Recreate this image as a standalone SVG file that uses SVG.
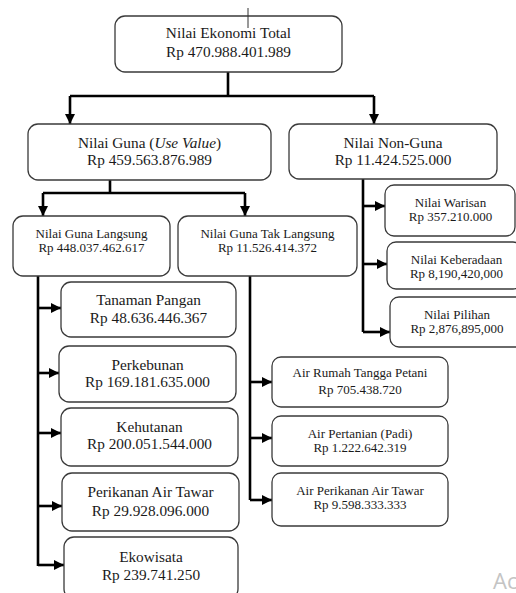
<svg xmlns="http://www.w3.org/2000/svg" width="516" height="593" viewBox="0 0 516 593">
<style>
.box{fill:#fff;stroke:#3a3a3a;stroke-width:1.3}
.t{font-family:'Liberation Serif','Times New Roman','DejaVu Serif',serif;fill:#1a1a1a;text-anchor:middle}
.L{font-size:15.3px}
.S{font-size:13px}
.c{fill:none;stroke:#000;stroke-width:2.6}
</style>
<defs>
<marker id="ah" markerUnits="userSpaceOnUse" markerWidth="12" markerHeight="12" viewBox="0 0 12 12" refX="11" refY="6" orient="auto">
<path d="M1,1 L11,6 L1,11 Z" fill="#000"/>
</marker>
</defs>
<rect width="516" height="593" fill="#fff"/>

<g id="connectors">
<path class="c" d="M228 72 V96"/>
<path class="c" d="M70 96 H374"/>
<path class="c" d="M70 96 V124" marker-end="url(#ah)"/>
<path class="c" d="M374 96 V124" marker-end="url(#ah)"/>
<path class="c" d="M110 180 V193"/>
<path class="c" d="M43 193 H245"/>
<path class="c" d="M43 193 V216" marker-end="url(#ah)"/>
<path class="c" d="M245 193 V216" marker-end="url(#ah)"/>
<path class="c" d="M363 179 V332"/>
<path class="c" d="M363 206 H385" marker-end="url(#ah)"/>
<path class="c" d="M363 264 H387" marker-end="url(#ah)"/>
<path class="c" d="M363 332 H390" marker-end="url(#ah)"/>
<path class="c" d="M38 276 V566"/>
<path class="c" d="M38 308 H61" marker-end="url(#ah)"/>
<path class="c" d="M38 373 H59" marker-end="url(#ah)"/>
<path class="c" d="M38 433 H61" marker-end="url(#ah)"/>
<path class="c" d="M38 506 H62" marker-end="url(#ah)"/>
<path class="c" d="M38 565 H64" marker-end="url(#ah)"/>
<path class="c" d="M250 276 V500"/>
<path class="c" d="M250 382 H272" marker-end="url(#ah)"/>
<path class="c" d="M250 438 H272" marker-end="url(#ah)"/>
<path class="c" d="M250 500 H272" marker-end="url(#ah)"/>
</g>

<g id="total">
<rect class="box" x="115" y="16" width="227" height="56" rx="10"/>
<text class="t L" x="228.5" y="38">Nilai Ekonomi Total</text>
<text class="t L" x="228.5" y="57">Rp 470.988.401.989</text>
</g>
<line x1="248" y1="8" x2="248" y2="28" stroke="#333" stroke-width="1"/>

<g id="guna">
<rect class="box" x="28" y="124" width="243" height="56" rx="10"/>
<text class="t L" x="149.5" y="148">Nilai Guna (<tspan font-style="italic">Use Value</tspan>)</text>
<text class="t L" x="149.5" y="165">Rp 459.563.876.989</text>
</g>

<g id="nonguna">
<rect class="box" x="289" y="124" width="208" height="55" rx="10"/>
<text class="t L" x="393" y="148">Nilai Non-Guna</text>
<text class="t L" x="393" y="165">Rp 11.424.525.000</text>
</g>

<g id="langsung">
<rect class="box" x="13" y="216" width="157" height="60" rx="10"/>
<text class="t S" x="91.5" y="238">Nilai Guna Langsung</text>
<text class="t S" x="91.5" y="252">Rp 448.037.462.617</text>
</g>

<g id="taklangsung">
<rect class="box" x="178" y="216" width="179" height="60" rx="10"/>
<text class="t S" x="267.5" y="238">Nilai Guna Tak Langsung</text>
<text class="t S" x="267.5" y="252">Rp 11.526.414.372</text>
</g>

<g id="warisan">
<rect class="box" x="385" y="185" width="130" height="51" rx="9"/>
<text class="t S" x="450.5" y="207">Nilai Warisan</text>
<text class="t S" x="450.5" y="221">Rp 357.210.000</text>
</g>

<g id="keberadaan">
<rect class="box" x="387" y="242" width="135" height="47" rx="9"/>
<text class="t S" x="456.5" y="264">Nilai Keberadaan</text>
<text class="t S" x="456.5" y="278">Rp 8,190,420,000</text>
</g>

<g id="pilihan">
<rect class="box" x="390" y="297" width="135" height="50" rx="9"/>
<text class="t S" x="457" y="319">Nilai Pilihan</text>
<text class="t S" x="457" y="333">Rp 2,876,895,000</text>
</g>

<g id="tanaman">
<rect class="box" x="61" y="282" width="175" height="55" rx="10"/>
<text class="t L" x="148.5" y="305">Tanaman Pangan</text>
<text class="t L" x="148.5" y="323">Rp 48.636.446.367</text>
</g>

<g id="perkebunan">
<rect class="box" x="59" y="346" width="177" height="56" rx="10"/>
<text class="t L" x="147.5" y="370">Perkebunan</text>
<text class="t L" x="147.5" y="387">Rp 169.181.635.000</text>
</g>

<g id="kehutanan">
<rect class="box" x="61" y="408" width="177" height="58" rx="10"/>
<text class="t L" x="149.5" y="432">Kehutanan</text>
<text class="t L" x="149.5" y="449">Rp 200.051.544.000</text>
</g>

<g id="perikanan">
<rect class="box" x="62" y="473" width="177" height="58" rx="10"/>
<text class="t L" x="150.5" y="497">Perikanan Air Tawar</text>
<text class="t L" x="150.5" y="516">Rp 29.928.096.000</text>
</g>

<g id="ekowisata">
<rect class="box" x="64" y="537" width="174" height="62" rx="10"/>
<text class="t L" x="151" y="562">Ekowisata</text>
<text class="t L" x="151" y="580">Rp 239.741.250</text>
</g>

<g id="airrumah">
<rect class="box" x="272" y="357" width="176" height="50" rx="9"/>
<text class="t S" x="360" y="377">Air Rumah Tangga Petani</text>
<text class="t S" x="360" y="394">Rp 705.438.720</text>
</g>

<g id="airpertanian">
<rect class="box" x="272" y="416" width="176" height="50" rx="9"/>
<text class="t S" x="360" y="438">Air Pertanian (Padi)</text>
<text class="t S" x="360" y="452">Rp 1.222.642.319</text>
</g>

<g id="airperikanan">
<rect class="box" x="272" y="473" width="176" height="53" rx="9"/>
<text class="t S" x="360" y="495">Air Perikanan Air Tawar</text>
<text class="t S" x="360" y="509">Rp 9.598.333.333</text>
</g>

<text x="493" y="589" font-family="'Open Sans','Noto Sans',sans-serif" font-size="22" fill="#c4c4c4">Ac</text>
</svg>
